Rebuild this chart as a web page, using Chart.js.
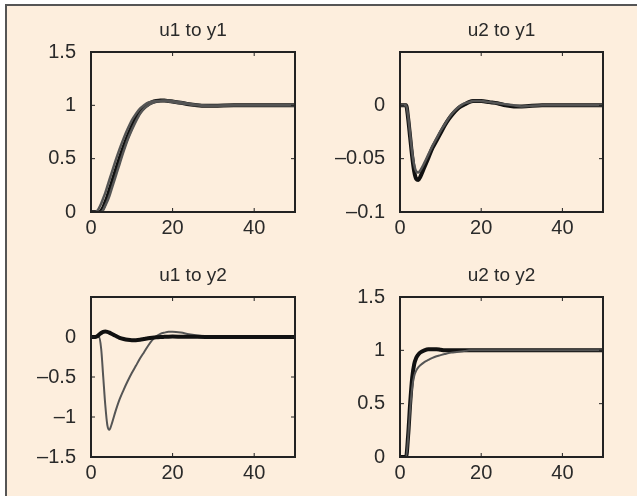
<!DOCTYPE html>
<html>
<head>
<meta charset="utf-8">
<script src="https://cdn.jsdelivr.net/npm/chart.js@4.4.1/dist/chart.umd.min.js"></script>
<style>
  html, body { margin: 0; padding: 0; background: #fff; }
  #page { position: relative; width: 637px; height: 496px; overflow: hidden; background: #fff; }
  #frame { position: absolute; left: 5px; top: 4px; width: 640px; height: 500px;
           background: #fdeedd; border-left: 2px solid #555; border-top: 2px solid #555; }
  canvas { position: absolute; }
</style>
</head>
<body>
<div id="page">
  <div id="frame"></div>
  <canvas id="c11"></canvas>
  <canvas id="c12"></canvas>
  <canvas id="c21"></canvas>
  <canvas id="c22"></canvas>
</div>
<script>
// Tempo comum a todas as curvas
const tempo = [0, 1, 1.5, 2, 2.5, 3, 3.5, 4, 4.5, 5, 6, 7, 8, 9, 10, 11, 12, 13, 14, 15,
               16, 17, 18, 19, 20, 22, 24, 26, 28, 30, 35, 40, 45, 50];

// u1 -> y1
const u1y1Preto = [0, 0, 0, 0, 0.01, 0.04, 0.09, 0.14, 0.2, 0.26, 0.38, 0.5, 0.61, 0.71, 0.8, 0.88, 0.94, 0.98, 1.01, 1.03,
                   1.04, 1.045, 1.045, 1.04, 1.035, 1.025, 1.01, 1.0, 0.995, 0.995, 1, 1, 1, 1];
const u1y1CinzaA = [0, 0, 0.01, 0.04, 0.08, 0.13, 0.18, 0.24, 0.3, 0.36, 0.48, 0.59, 0.69, 0.78, 0.86, 0.92, 0.97, 1.0, 1.025, 1.035,
                    1.04, 1.04, 1.04, 1.035, 1.03, 1.02, 1.01, 1.0, 0.995, 0.995, 1, 1, 1, 1];
const u1y1CinzaB = [0, 0, 0, 0, 0, 0.02, 0.06, 0.1, 0.15, 0.21, 0.33, 0.45, 0.57, 0.68, 0.77, 0.85, 0.92, 0.97, 1.0, 1.02,
                    1.035, 1.04, 1.045, 1.045, 1.04, 1.03, 1.015, 1.005, 0.998, 0.995, 1, 1, 1, 1];

// u2 -> y1
const u2y1Preto = [0, 0, 0, -0.012, -0.03, -0.048, -0.062, -0.069, -0.07, -0.067, -0.058, -0.049, -0.04, -0.033, -0.026, -0.019, -0.013, -0.008, -0.004, -0.001,
                   0.001, 0.003, 0.004, 0.004, 0.004, 0.003, 0.002, 0, -0.001, -0.001, 0, 0, 0, 0];
const u2y1Cinza = [0, 0, 0, -0.01, -0.027, -0.044, -0.056, -0.062, -0.063, -0.061, -0.054, -0.046, -0.038, -0.031, -0.024, -0.018, -0.012, -0.007, -0.003, 0,
                   0.002, 0.003, 0.004, 0.004, 0.004, 0.003, 0.002, 0.001, 0, -0.001, 0, 0, 0, 0];

// u1 -> y2
const u1y2Preto = [0, 0, 0.01, 0.03, 0.05, 0.065, 0.07, 0.065, 0.055, 0.04, 0.015, -0.01, -0.025, -0.035, -0.04, -0.04, -0.035, -0.025, -0.015, -0.008,
                   -0.003, 0, 0.002, 0.004, 0.005, 0.004, 0.003, 0.002, 0.001, 0, 0, 0, 0, 0];
const u1y2Cinza = [0, 0, 0, 0, -0.15, -0.5, -0.85, -1.1, -1.16, -1.1, -0.93, -0.78, -0.66, -0.55, -0.45, -0.36, -0.27, -0.19, -0.11, -0.04,
                   0.01, 0.04, 0.055, 0.065, 0.065, 0.055, 0.035, 0.02, 0.008, 0.002, 0, 0, 0, 0];

// u2 -> y2
const u2y2Preto = [0, 0, 0, 0.2, 0.5, 0.74, 0.87, 0.93, 0.96, 0.98, 1.0, 1.01, 1.01, 1.01, 1.005, 1.0, 1.0, 1.0, 1.0, 1.0,
                   1, 1, 1, 1, 1, 1, 1, 1, 1, 1, 1, 1, 1, 1];
const u2y2Cinza = [0, 0, 0, 0.18, 0.45, 0.65, 0.76, 0.81, 0.84, 0.86, 0.89, 0.91, 0.93, 0.945, 0.955, 0.965, 0.975, 0.98, 0.985, 0.99,
                   0.995, 1, 1, 1, 1, 1, 1, 1, 1, 1, 1, 1, 1, 1];

// Rótulos dos eixos
const xTicks = [0, 20, 40];
const yTicksU1Y1 = [0, 0.5, 1, 1.5];
const yTicksU2Y1 = [-0.1, -0.05, 0];
const yTicksU1Y2 = [-1.5, -1, -0.5, 0];
const yTicksU2Y2 = [0, 0.5, 1, 1.5];

const FONT = "'Liberation Sans', Arial, Helvetica, sans-serif";
const INK = '#2a2a2a';
const LEFT = 80, TOP = 50, RIGHT = 12, BOTTOM = 40;

// Moldura e marcas internas estilo MATLAB
const boxPlugin = {
    id: 'boxPlugin',
    afterDatasetsDraw(chart) {
        const { ctx, chartArea: a, scales } = chart;
        ctx.save();
        ctx.strokeStyle = '#222';
        ctx.lineWidth = 1;
        scales.x.ticks.forEach(t => {
            const px = scales.x.getPixelForValue(t.value);
            ctx.beginPath();
            ctx.moveTo(px, a.bottom); ctx.lineTo(px, a.bottom - 4);
            ctx.moveTo(px, a.top); ctx.lineTo(px, a.top + 4);
            ctx.stroke();
        });
        scales.y.ticks.forEach(t => {
            const py = scales.y.getPixelForValue(t.value);
            ctx.beginPath();
            ctx.moveTo(a.left, py); ctx.lineTo(a.left + 4, py);
            ctx.moveTo(a.right, py); ctx.lineTo(a.right - 4, py);
            ctx.stroke();
        });
        ctx.lineWidth = 2;
        ctx.strokeRect(a.left, a.top, a.right - a.left, a.bottom - a.top);
        ctx.restore();
    }
};

function fmt(v) {
    return String(+v.toFixed(2)).replace('-', '\u2013');
}

function pontos(vals) {
    return tempo.map((t, i) => ({ x: t, y: vals[i] }));
}

function grafico(id, rect, titulo, yMin, yMax, yTicks, series) {
    const cv = document.getElementById(id);
    const [l, t, r, b] = rect;
    cv.width = (r - l) + LEFT + RIGHT;
    cv.height = (b - t) + TOP + BOTTOM;
    cv.style.left = (l - LEFT) + 'px';
    cv.style.top = (t - TOP) + 'px';
    return new Chart(cv.getContext('2d'), {
        type: 'line',
        data: {
            datasets: series.map(s => ({
                data: pontos(s.data),
                borderColor: s.cor,
                borderWidth: s.largura,
                pointRadius: 0,
                fill: false,
                cubicInterpolationMode: 'monotone'
            }))
        },
        options: {
            responsive: false,
            animation: false,
            events: [],
            layout: { padding: { left: 0, top: 0, right: RIGHT, bottom: 0 } },
            plugins: {
                legend: { display: false },
                tooltip: { enabled: false },
                title: {
                    display: true,
                    fullSize: false,
                    text: titulo,
                    color: INK,
                    font: { family: FONT, size: 19, weight: 'normal' },
                    padding: { top: 17, bottom: 10.2 }
                }
            },
            scales: {
                x: {
                    type: 'linear',
                    min: 0,
                    max: 50,
                    afterBuildTicks: sc => { sc.ticks = xTicks.map(v => ({ value: v })); },
                    afterFit: sc => { sc.height = BOTTOM; },
                    grid: { display: false },
                    border: { display: false },
                    ticks: { color: INK, font: { family: FONT, size: 20 }, padding: -4, maxRotation: 0, callback: fmt }
                },
                y: {
                    min: yMin,
                    max: yMax,
                    afterBuildTicks: sc => { sc.ticks = yTicks.map(v => ({ value: v })); },
                    afterFit: sc => { sc.width = LEFT; },
                    grid: { display: false },
                    border: { display: false },
                    ticks: { color: INK, font: { family: FONT, size: 20 }, padding: 7, callback: fmt }
                }
            }
        },
        plugins: [boxPlugin]
    });
}

const PRETO = '#111';
const CINZA = '#555';

grafico('c11', [91, 52, 295, 212], 'u1 to y1', 0, 1.5, yTicksU1Y1, [
    { data: u1y1CinzaA, cor: CINZA, largura: 2.5 },
    { data: u1y1CinzaB, cor: CINZA, largura: 2.5 },
    { data: u1y1Preto, cor: PRETO, largura: 4 }
]);
grafico('c12', [400, 52, 603, 212], 'u2 to y1', -0.1, 0.05, yTicksU2Y1, [
    { data: u2y1Cinza, cor: CINZA, largura: 2.5 },
    { data: u2y1Preto, cor: PRETO, largura: 4 }
]);
grafico('c21', [91, 297, 295, 457], 'u1 to y2', -1.5, 0.5, yTicksU1Y2, [
    { data: u1y2Preto, cor: PRETO, largura: 4 },
    { data: u1y2Cinza, cor: CINZA, largura: 2 }
]);
grafico('c22', [400, 297, 603, 457], 'u2 to y2', 0, 1.5, yTicksU2Y2, [
    { data: u2y2Cinza, cor: CINZA, largura: 2 },
    { data: u2y2Preto, cor: PRETO, largura: 4 }
]);
</script>
</body>
</html>
